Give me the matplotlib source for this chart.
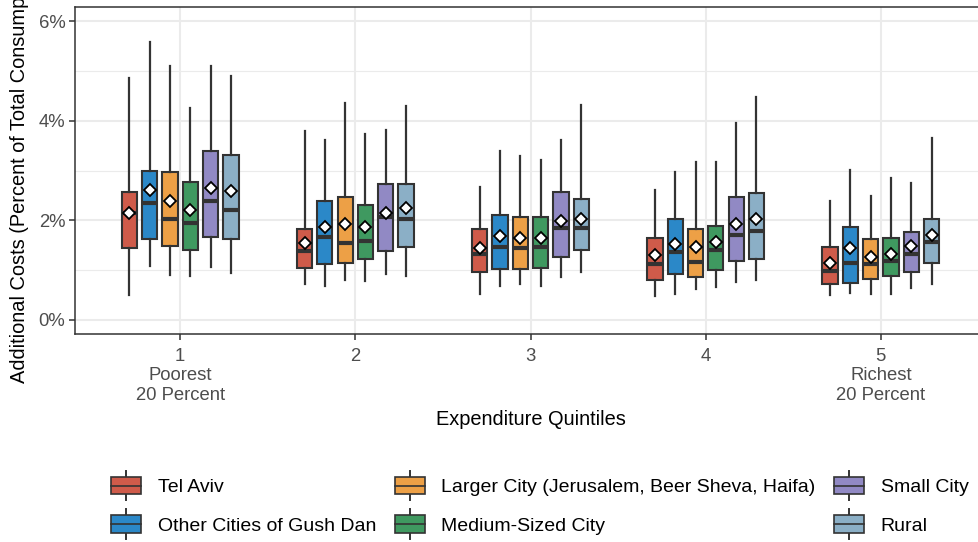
import numpy as np
import matplotlib
matplotlib.use('Agg')
import matplotlib.pyplot as plt
from matplotlib.legend_handler import HandlerBase
from matplotlib.patches import Rectangle, Patch
from matplotlib.lines import Line2D

plt.rcParams['font.family'] = ['Liberation Sans', 'DejaVu Sans']

cities = ['Tel Aviv', 'Other Cities of Gush Dan', 'Larger City (Jerusalem, Beer Sheva, Haifa)',
          'Medium-Sized City', 'Small City', 'Rural']
colors = ['#CF5B4A', '#2B88C8', '#EDA046', '#3F9960', '#9189C4', '#8BAFC6']
quintiles = [1, 2, 3, 4, 5]
tick_labels = ['1\nPoorest\n20 Percent', '2', '3', '4', '5\nRichest\n20 Percent']

# rows = cities, columns = quintiles (percent)
whislo = [[0.51, 0.72, 0.52, 0.48, 0.50],
          [1.08, 0.69, 0.68, 0.52, 0.54],
          [0.90, 0.80, 0.73, 0.62, 0.52],
          [0.88, 0.79, 0.68, 0.67, 0.52],
          [1.07, 0.92, 0.87, 0.76, 0.64],
          [0.95, 0.89, 0.96, 0.80, 0.73]]
q1 = [[1.44, 1.05, 0.96, 0.80, 0.73],
      [1.63, 1.12, 1.02, 0.92, 0.75],
      [1.48, 1.14, 1.02, 0.86, 0.82],
      [1.41, 1.23, 1.05, 1.00, 0.88],
      [1.67, 1.39, 1.26, 1.18, 0.96],
      [1.63, 1.46, 1.40, 1.22, 1.14]]
med = [[2.15, 1.39, 1.32, 1.12, 0.98],
       [2.35, 1.67, 1.46, 1.36, 1.14],
       [2.03, 1.55, 1.44, 1.17, 1.12],
       [1.95, 1.59, 1.47, 1.40, 1.19],
       [2.39, 2.06, 1.84, 1.71, 1.32],
       [2.21, 2.03, 1.84, 1.79, 1.56]]
q3 = [[2.57, 1.82, 1.82, 1.64, 1.46],
      [3.00, 2.38, 2.10, 2.02, 1.87],
      [2.96, 2.46, 2.06, 1.83, 1.62],
      [2.77, 2.31, 2.07, 1.89, 1.65],
      [3.39, 2.73, 2.57, 2.47, 1.76],
      [3.32, 2.73, 2.42, 2.54, 2.03]]
whishi = [[4.86, 3.79, 2.66, 2.61, 2.39],
          [5.57, 3.61, 3.39, 2.97, 3.02],
          [5.10, 4.36, 3.30, 3.18, 2.49],
          [4.25, 3.73, 3.22, 3.18, 2.85],
          [5.09, 3.81, 3.61, 3.95, 2.74],
          [4.90, 4.29, 4.31, 4.48, 3.65]]
means = [[2.14, 1.54, 1.44, 1.31, 1.14],
         [2.61, 1.87, 1.69, 1.53, 1.44],
         [2.39, 1.93, 1.65, 1.46, 1.26],
         [2.20, 1.87, 1.65, 1.56, 1.33],
         [2.64, 2.14, 1.99, 1.92, 1.49],
         [2.59, 2.24, 2.03, 2.03, 1.71]]

EDGE = '#333333'
GRID = '#EBEBEB'
TXT = '#4D4D4D'


class BoxHandler(HandlerBase):
    def create_artists(self, legend, orig_handle, xdescent, ydescent, width, height, fontsize, trans):
        x0, y0 = -xdescent, -ydescent
        xm = x0 + width / 2
        ym = y0 + height / 2
        arts = [
            Line2D([xm, xm], [y0 - 0.35 * height, y0 + 1.35 * height], color=EDGE, lw=1.4, transform=trans),
            Rectangle((x0, y0), width, height, facecolor=orig_handle.get_facecolor(),
                      edgecolor=EDGE, lw=1.2, transform=trans),
            Line2D([x0, x0 + width], [ym, ym], color=EDGE, lw=1.2, transform=trans),
        ]
        return arts


fig = plt.figure(figsize=(9.79, 5.42), dpi=100)
ax = fig.add_axes([75 / 979, 1 - 334 / 542, 911 / 979, 327 / 542])

step = 0.116
bw = 0.087
for i, (city, col) in enumerate(zip(cities, colors)):
    stats = []
    pos = []
    for j, q in enumerate(quintiles):
        stats.append(dict(whislo=whislo[i][j], q1=q1[i][j], med=med[i][j], q3=q3[i][j],
                          whishi=whishi[i][j], fliers=[]))
        pos.append(q + (i - 2.5) * step)
    ax.bxp(stats, positions=pos, widths=bw, patch_artist=True, showcaps=False, manage_ticks=False,
           boxprops=dict(facecolor=col, edgecolor=EDGE, linewidth=1.5),
           whiskerprops=dict(color=EDGE, linewidth=1.6),
           medianprops=dict(color=EDGE, linewidth=3.0, solid_capstyle='butt'),
           zorder=3)
    ax.plot(pos, means[i], linestyle='none', marker='D', markersize=6.5, markerfacecolor='white',
            markeredgecolor='black', markeredgewidth=1.3, zorder=5)

ax.set_xlim(0.4, 5.6)
ax.set_ylim(-0.281, 6.281)
ax.set_xticks(quintiles)
ax.set_xticklabels(tick_labels, linespacing=1.2)
ax.set_yticks([0, 2, 4, 6])
ax.set_yticklabels(['0%', '2%', '4%', '6%'])
ax.set_yticks([1, 3, 5], minor=True)
ax.grid(True, which='major', color=GRID, linewidth=1.5, zorder=0)
ax.grid(True, which='minor', axis='y', color=GRID, linewidth=0.8, zorder=0)
ax.set_axisbelow(True)
ax.tick_params(axis='both', which='major', color=EDGE, length=4, width=1.1,
               labelcolor=TXT, labelsize=13.3, pad=3)
ax.tick_params(axis='x', which='major', pad=6)
ax.tick_params(axis='y', which='minor', length=0)
for s in ax.spines.values():
    s.set_color(EDGE)
    s.set_linewidth(1.1)

ax.set_xlabel('Expenditure Quintiles', fontsize=14.4, color='black', labelpad=4)
ax.set_ylabel('Additional Costs (Percent of Total Consumption)', fontsize=14.4, color='black')
ax.yaxis.set_label_coords(-0.050, 0.5)

handles = [Patch(facecolor=c, edgecolor=EDGE) for c in colors]
leg = fig.legend(handles, cities, ncol=3,
                 loc='upper left', bbox_to_anchor=(111 / 979, 1 - 477 / 542),
                 frameon=False, prop={'size': 14.0}, handler_map={Patch: BoxHandler()},
                 handlelength=1.55, handleheight=1.0, handletextpad=0.85,
                 columnspacing=0.95, labelspacing=0.98, borderaxespad=0, borderpad=0)

fig.savefig('out.png', dpi=100)
